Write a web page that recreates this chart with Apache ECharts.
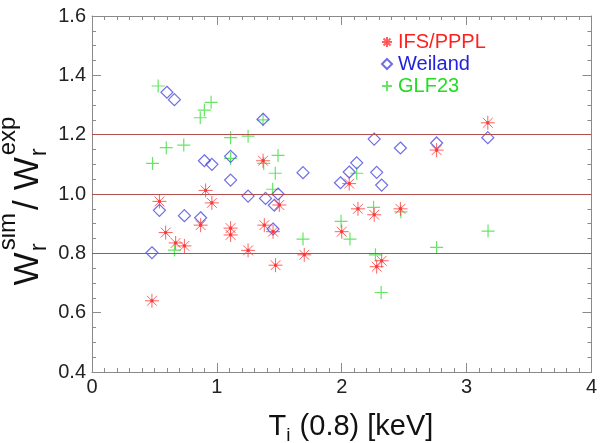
<!DOCTYPE html>
<html>
<head>
<meta charset="utf-8">
<script src="https://cdn.jsdelivr.net/npm/echarts@6/dist/echarts.min.js"></script>
<style>
  html, body { margin: 0; padding: 0; background: #ffffff; }
  #chart { width: 600px; height: 443px; }
</style>
</head>
<body>
<div id="chart"></div>
<script>
// Ratio of simulated to experimental rotation frequency vs ion temperature at rho = 0.8
const ifsPppl = [
  [0.48, 0.640], [0.54, 0.975], [0.59, 0.870], [0.67, 0.835], [0.74, 0.825],
  [0.87, 0.895], [0.91, 1.012], [0.96, 0.970], [1.11, 0.885], [1.11, 0.862],
  [1.25, 0.810], [1.37, 1.112], [1.38, 0.895], [1.45, 0.873], [1.47, 0.760],
  [1.50, 0.963], [1.70, 0.795], [2.00, 0.873], [2.06, 1.035], [2.13, 0.950],
  [2.26, 0.930], [2.28, 0.755], [2.32, 0.775], [2.47, 0.950], [2.76, 1.148],
  [3.17, 1.240]
];
const weiland = [
  [0.48, 0.802], [0.54, 0.945], [0.60, 1.343], [0.66, 1.318], [0.74, 0.927],
  [0.87, 0.920], [0.90, 1.112], [0.96, 1.100], [1.11, 1.127], [1.11, 1.047],
  [1.25, 0.993], [1.37, 1.252], [1.39, 0.985], [1.45, 0.882], [1.46, 0.962],
  [1.49, 1.000], [1.69, 1.072], [1.99, 1.038], [2.06, 1.074], [2.12, 1.105],
  [2.26, 1.185], [2.28, 1.073], [2.32, 1.030], [2.47, 1.155], [2.76, 1.172],
  [3.17, 1.190]
];
const glf23 = [
  [0.485, 1.103], [0.53, 1.364], [0.595, 1.156], [0.66, 0.811], [0.735, 1.165],
  [0.867, 1.257], [0.90, 1.283], [0.954, 1.309], [1.11, 1.190], [1.11, 1.120],
  [1.25, 1.195], [1.37, 1.250], [1.375, 1.103], [1.447, 1.016], [1.468, 1.070],
  [1.49, 1.130], [1.69, 0.848], [1.995, 0.908], [2.066, 0.848], [2.12, 1.070],
  [2.255, 0.955], [2.27, 0.795], [2.316, 0.668], [2.474, 0.940], [2.76, 0.820],
  [3.172, 0.875]
];
const seriesNames = ['IFS/PPPL', 'Weiland', 'GLF23'];
const refLines = [0.8, 1.0, 1.2];
const xRange = { min: 0, max: 4, step: 1 };
const yRange = { min: 0.4, max: 1.6, step: 0.2 };

const FONT = 'Liberation Sans, Arial, Helvetica, sans-serif';
const RED = '#ff1f1f', BLUE = '#2222dd', GREEN = '#22dd22';

const asteriskPath = 'path://M0,5L10,5M5,0L5,10M1.5,1.5L8.5,8.5M8.5,1.5L1.5,8.5M4.2,4.2L5.8,4.2L5.8,5.8L4.2,5.8Z';
const plusPath = 'path://M5,0L5,10M0,5L10,5';

// text measuring for the hand-laid axis titles (sub/superscripts)
const measureCtx = document.createElement('canvas').getContext('2d');
function textWidth(t, size) {
  measureCtx.font = size + 'px ' + FONT;
  return measureCtx.measureText(t).width;
}
function piece(t, size, x, baseline, color) {
  return {
    type: 'text', x: x, y: baseline - 0.31 * size,
    style: { text: t, font: size + 'px ' + FONT, fill: color || '#111',
             align: 'left', verticalAlign: 'middle' }
  };
}

// x title: T_i (0.8) [keV]
function xTitle() {
  const big = 29, small = 19, base = 436, cx = 351;
  const wT = textWidth('T', big), wi = textWidth('i', small), wRest = textWidth(' (0.8) [keV]', big);
  let x = cx - (wT + wi + 1 + wRest) / 2;
  const out = [];
  out.push(piece('T', big, x, base)); x += wT;
  out.push(piece('i', small, x, base + 6)); x += wi + 1;
  out.push(piece(' (0.8) [keV]', big, x, base));
  return { type: 'group', children: out };
}

// y title: W_r^sim / W_r^exp, laid along a rotated group
function yTitle() {
  const big = 35, small = 24, cy = 201;
  const children = [];
  const wW = textWidth('W', big), wr = textWidth('r', small);
  const wsim = textWidth('sim', small), wexp = textWidth('exp', small);
  const wSlash = textWidth('/', big), gap = 10;
  const total = wW + Math.max(wr, wsim) + 5 + wSlash + gap + wW + Math.max(wr, wexp) + 2;
  let x = -total / 2;
  children.push(piece('W', big, x, 0)); x += wW;
  children.push(piece('r', small, x + 1, 8));
  children.push(piece('sim', small, x + 2, -23)); x += Math.max(wr, wsim) + 5;
  children.push(piece('/', big, x, 0)); x += wSlash + gap;
  children.push(piece('W', big, x, 0)); x += wW;
  children.push(piece('r', small, x + 1, 8));
  children.push(piece('exp', small, x + 2, -23));
  return { type: 'group', x: 39, y: cy, rotation: Math.PI / 2, children: children };
}

const axisLineStyle = { color: '#8a8a8a', width: 1 };
function xAxisDef(pos, labels) {
  return {
    type: 'value', position: pos, min: xRange.min, max: xRange.max, interval: xRange.step,
    axisLine: { show: true, onZero: false, lineStyle: axisLineStyle },
    axisTick: { show: true, inside: true, length: 9, lineStyle: axisLineStyle },
    minorTick: { show: true, splitNumber: 10, length: 4, lineStyle: axisLineStyle },
    axisLabel: { show: labels, fontSize: 20, fontFamily: FONT, color: '#222', margin: 5 },
    splitLine: { show: false }, minorSplitLine: { show: false }
  };
}
function yAxisDef(pos, labels) {
  return {
    type: 'value', position: pos, min: yRange.min, max: yRange.max, interval: yRange.step,
    axisLine: { show: true, onZero: false, lineStyle: axisLineStyle },
    axisTick: { show: true, inside: true, length: 9, lineStyle: axisLineStyle },
    minorTick: { show: true, splitNumber: 4, length: 4, lineStyle: axisLineStyle },
    axisLabel: { show: labels, fontSize: 20, fontFamily: FONT, color: '#222', margin: 6,
                 formatter: v => v.toFixed(1) },
    splitLine: { show: false }, minorSplitLine: { show: false }
  };
}

const chart = echarts.init(document.getElementById('chart'), null, { renderer: 'canvas' });
chart.setOption({
  animation: false,
  backgroundColor: '#ffffff',
  grid: { left: 92, right: 2, top: 16, bottom: 71 },
  xAxis: [xAxisDef('bottom', true), xAxisDef('top', false)],
  yAxis: [yAxisDef('left', true), yAxisDef('right', false)],
  legend: {
    orient: 'vertical', left: 376, top: 27, itemWidth: 10, itemHeight: 10, itemGap: 2,
    textStyle: { fontSize: 20, fontFamily: FONT, padding: [0, 0, 0, 1] },
    data: [
      { name: seriesNames[0], textStyle: { color: RED } },
      { name: seriesNames[1], textStyle: { color: BLUE } },
      { name: seriesNames[2], textStyle: { color: GREEN } }
    ]
  },
  graphic: [xTitle(), yTitle()],
  series: [
    {
      name: seriesNames[0], type: 'scatter', data: ifsPppl, symbol: asteriskPath, symbolSize: 14,
      itemStyle: { color: '#d80000', borderColor: '#ff3a3a', borderWidth: 1 }, z: 3,
      markLine: {
        silent: true, symbol: 'none', label: { show: false },
        lineStyle: { color: '#b05050', width: 1, type: 'solid' },
        data: refLines.map(v => ({ yAxis: v }))
      }
    },
    {
      name: seriesNames[1], type: 'scatter', data: weiland, symbol: 'diamond', symbolSize: 12,
      itemStyle: { color: 'rgba(0,0,0,0)', borderColor: '#4a4ae0', borderWidth: 1.2 }, z: 2
    },
    {
      name: seriesNames[2], type: 'scatter', data: glf23, symbol: plusPath, symbolSize: 13,
      itemStyle: { color: 'rgba(0,0,0,0)', borderColor: '#3ee03e', borderWidth: 1.2 }, z: 1
    }
  ]
});
</script>
</body>
</html>
